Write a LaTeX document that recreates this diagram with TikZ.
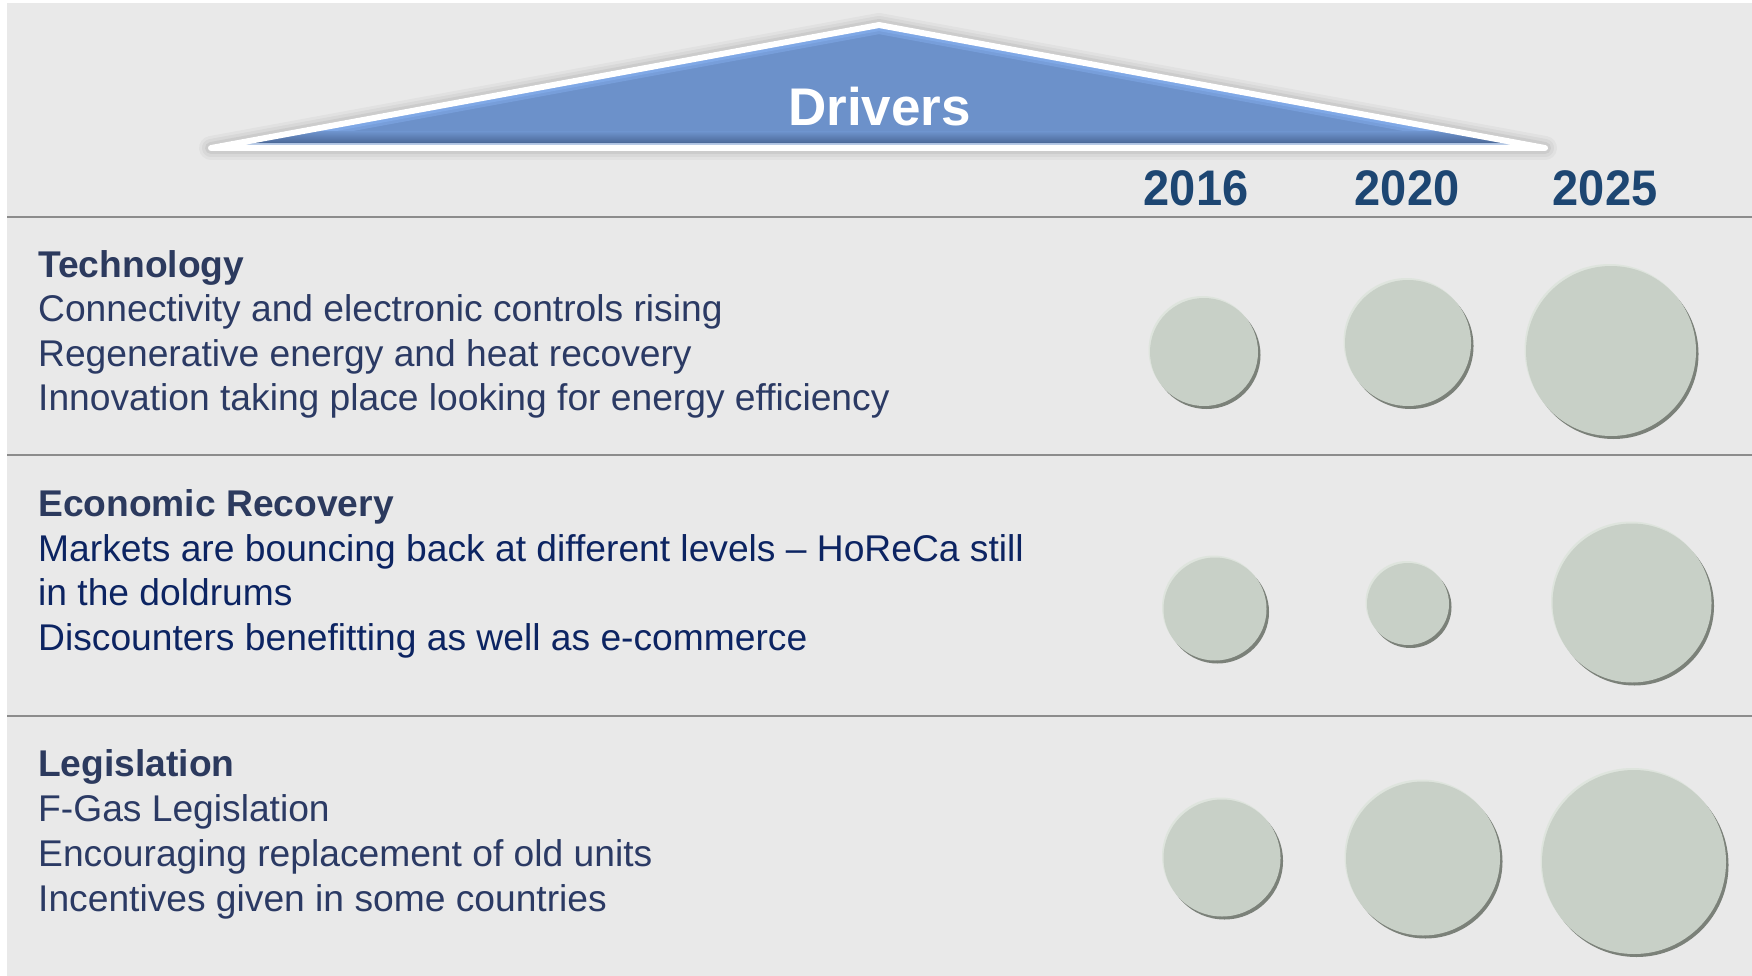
\documentclass[tikz,border=0pt]{standalone}
\usepackage{fontspec}
\setmainfont{Liberation Sans}
\newfontfamily\yearfont[FakeStretch=0.94]{Liberation Sans}
\usetikzlibrary{calc}

\definecolor{panel}{HTML}{E9E9E9}
\definecolor{rule}{HTML}{8C8C8C}
\definecolor{head}{HTML}{2C3A5E}
\definecolor{bodyslate}{HTML}{2B3A64}
\definecolor{bodynavy}{HTML}{0C2462}
\definecolor{year}{HTML}{1D4672}
\definecolor{roofblue}{HTML}{6C91CA}
\definecolor{rooflight}{HTML}{7FA8E6}
\definecolor{roofdark}{HTML}{4C6A9A}
\definecolor{bubblefill}{HTML}{C8D0C7}
\definecolor{bubbleshade}{HTML}{7B8179}
\definecolor{bubblelight}{HTML}{DEE4DD}

% one rating bubble: name, x, y, radius
\newcommand\bubble[4]{%
  \fill[bubbleshade] (#2+2.5,#3+3) circle[radius=#4];
  \fill[bubblelight] (#2-1.5,#3-2) circle[radius=#4];
  \node[bubblebody, minimum size=2*#4] (#1) at (#2,#3) {};
}

\begin{document}
\begin{tikzpicture}[x=1pt,y=-1pt,
  heading/.style={anchor=base west, inner sep=0pt,
    font=\fontsize{37.2}{44}\selectfont\bfseries, text=head},
  item/.style={anchor=base west, inner sep=0pt,
    font=\fontsize{37.2}{44}\selectfont, text=bodyslate},
  navyitem/.style={item, text=bodynavy},
  yearlabel/.style={anchor=base, inner sep=0pt,
    font=\yearfont\fontsize{50}{54}\selectfont\bfseries, text=year},
  separator/.style={draw=rule, line width=2pt},
  bubblebody/.style={circle, fill=bubblefill, inner sep=0pt},
]
\useasboundingbox (0,0) rectangle (1752,976);
\fill[white] (0,0) rectangle (1752,976);
\fill[panel] (7,3) rectangle (1752,976);

% row separators
\draw[separator] (7,217) -- (1752,217);
\draw[separator] (7,455) -- (1752,455);
\draw[separator] (7,716) -- (1752,716);

% roof banner
\coordinate (roofL) at (211,148);
\coordinate (roofT) at (879,25);
\coordinate (roofR) at (1545,148);

% soft shadow under the roof
\begin{scope}[shift={(0,7)}]
  \foreach \w/\o in {24/0.03, 18/0.04, 12/0.05, 6/0.07}
    \filldraw[black, opacity=\o, line width=\w pt, line join=round]
      (roofL) -- (roofT) -- (roofR) -- cycle;
\end{scope}

\fill[roofblue] (roofL) -- (roofT) -- (roofR) -- cycle;
\begin{scope}
  \clip (roofL) -- (roofT) -- (roofR) -- cycle;
  \draw[rooflight, opacity=0.6, line width=18pt, line join=round]
    (roofL) -- (roofT) -- (roofR);
  \draw[rooflight, line width=12pt, line join=round]
    (roofL) -- (roofT) -- (roofR);
  \shade[top color=roofblue, bottom color=roofdark] (0,132) rectangle (1752,142.5);
  \fill[roofdark] (0,142) rectangle (1752,143);
  \draw[roofblue!55!white, line width=2pt] (0,144) -- (1752,144);
\end{scope}
\draw[white, line width=6pt, line join=round, line cap=round]
  (roofL) -- (roofT) -- (roofR) -- cycle;
\node[anchor=base, inner sep=0pt, text=white,
  font=\fontsize{53}{60}\selectfont\bfseries] (drivers) at (879.5,126) {Drivers};

% year columns
\node[yearlabel] (y2016) at (1196,206) {2016};
\node[yearlabel] (y2020) at (1407,206) {2020};
\node[yearlabel] (y2025) at (1605,206) {2025};

% Technology
\node[heading] (techH) at (38,277) {Technology};
\node[item] (tech1) at (38,321.5) {Connectivity and electronic controls rising};
\node[item] (tech2) at (38,366) {Regenerative energy and heat recovery};
\node[item] (tech3) at (38,410.5) {Innovation taking place looking for energy efficiency};

% Economic Recovery
\node[heading] (econH) at (38,516) {Economic Recovery};
\node[navyitem] (econ1) at (38,561) {Markets are bouncing back at different levels -- HoReCa still};
\node[navyitem] (econ2) at (38,605.5) {in the doldrums};
\node[navyitem] (econ3) at (38,650) {Discounters benefitting as well as e-commerce};

% Legislation
\node[heading] (legH) at (38,776) {Legislation};
\node[item] (leg1) at (38,821) {F-Gas Legislation};
\node[item] (leg2) at (38,866) {Encouraging replacement of old units};
\node[item] (leg3) at (38,911) {Incentives given in some countries};

% bubbles
\bubble{tech16}{1204}{352}{54}
\bubble{tech20}{1408}{343}{63}
\bubble{tech25}{1611}{351}{85}
\bubble{econ16}{1215}{609}{51.5}
\bubble{econ20}{1408}{604}{41}
\bubble{econ25}{1632}{603}{79.5}
\bubble{leg16}{1222}{858}{58.5}
\bubble{leg20}{1423}{858.5}{77}
\bubble{leg25}{1634}{862}{92}
\end{tikzpicture}
\end{document}
